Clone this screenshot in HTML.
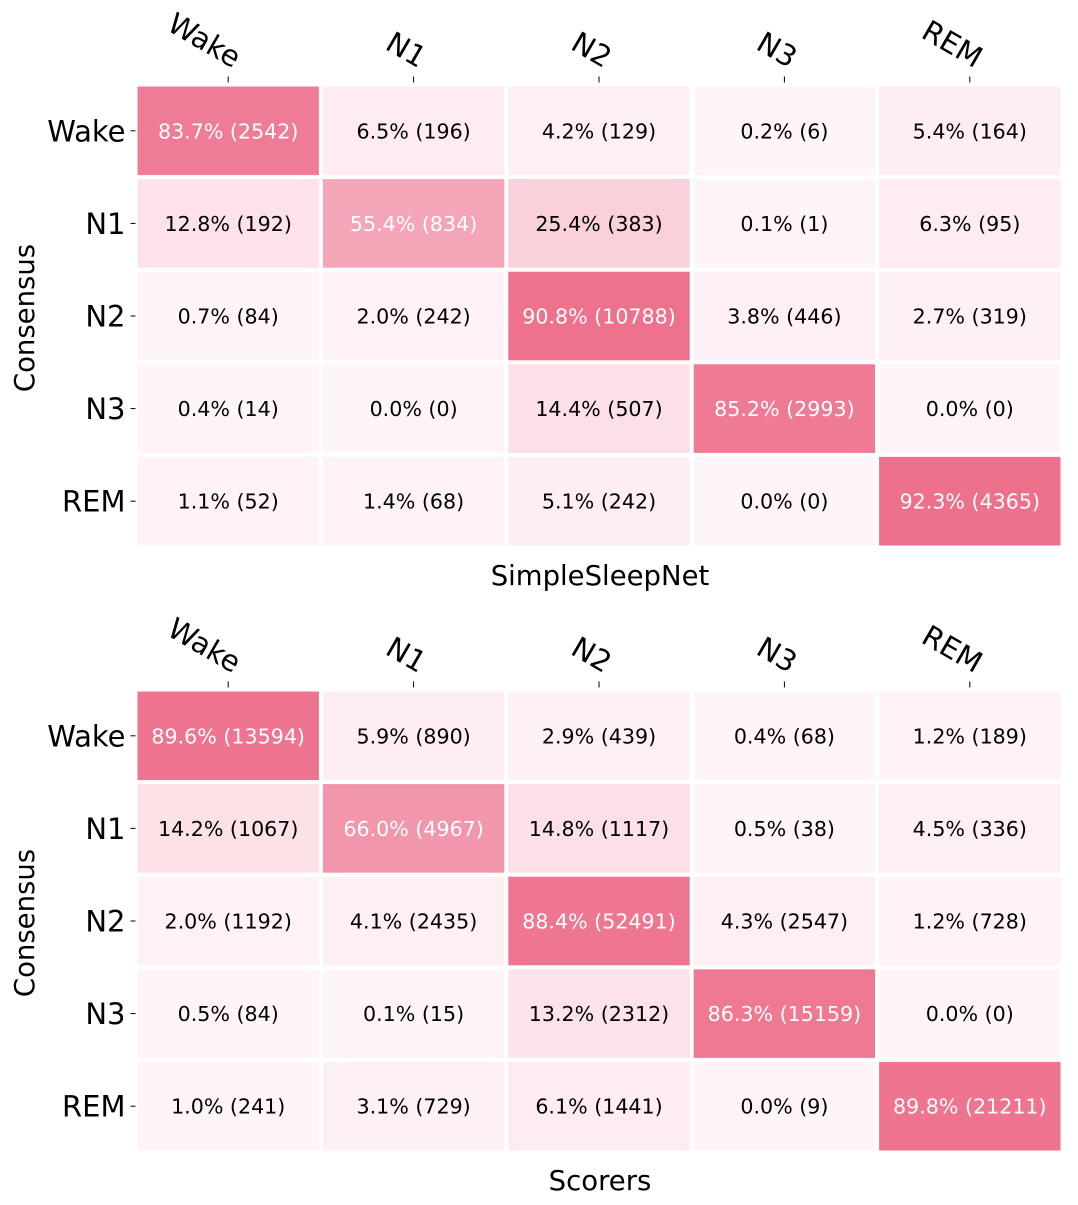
<!DOCTYPE html>
<html><head><meta charset="utf-8"><style>
body{margin:0;background:#fff;}
svg{display:block;font-family:"DejaVu Sans","Liberation Sans",sans-serif;}
</style></head><body>
<svg id="c" width="1078" height="1205" viewBox="0 0 1078 1205"></svg>
<script>
const labels = ["Wake","N1","N2","N3","REM"];
const pctTop = [[83.7,6.5,4.2,0.2,5.4],[12.8,55.4,25.4,0.1,6.3],[0.7,2.0,90.8,3.8,2.7],[0.4,0.0,14.4,85.2,0.0],[1.1,1.4,5.1,0.0,92.3]];
const cntTop = [[2542,196,129,6,164],[192,834,383,1,95],[84,242,10788,446,319],[14,0,507,2993,0],[52,68,242,0,4365]];
const pctBot = [[89.6,5.9,2.9,0.4,1.2],[14.2,66.0,14.8,0.5,4.5],[2.0,4.1,88.4,4.3,1.2],[0.5,0.1,13.2,86.3,0.0],[1.0,3.1,6.1,0.0,89.8]];
const cntBot = [[13594,890,439,68,189],[1067,4967,1117,38,336],[1192,2435,52491,2547,728],[84,15,2312,15159,0],[241,729,1441,9,21211]];
const titles = ["SimpleSleepNet","Scorers"];

const NS="http://www.w3.org/2000/svg";
const svg=document.getElementById('c');
function mk(tag,attrs,parent){const e=document.createElementNS(NS,tag);for(const k in attrs)e.setAttribute(k,attrs[k]);(parent||svg).appendChild(e);return e;}
function color(p){const t=Math.min(p/100,1);const a=[255,245,248],b=[236,101,131];
 return `rgb(${a.map((v,i)=>Math.round(v+(b[i]-v)*t)).join(',')})`;}
function draw(pct,cnt,title,oy,name){
 const g=mk('g',{transform:`translate(0,${oy})`});
 
 
 const x0=135.5,y0=84.5,cw=185.4,ch=92.6;
 const xs=i=>x0+i*cw, ys=j=>y0+j*ch;
 for(let r=0;r<5;r++)for(let c=0;c<5;c++){
  const rect=mk('rect',{x:xs(c)+2,y:ys(r)+2,width:cw-4,height:ch-4,fill:color(pct[r][c])},g);
  
  
  const t=mk('text',{x:xs(c)+cw/2,y:ys(r)+ch/2+7.5,'text-anchor':'middle','font-size':20.6,fill:pct[r][c]>50?'#fff':'#000'},g);
  t.textContent=pct[r][c].toFixed(1)+'% ('+cnt[r][c]+')';
  
  
 }
 for(let i=0;i<5;i++){
  const cx=xs(i)+cw/2;
  mk('line',{x1:cx,y1:y0-8,x2:cx,y2:y0-2,stroke:'#000','stroke-width':1},g);
  const t=mk('text',{x:0,y:0,'text-anchor':'end','font-size':29,transform:`translate(${cx+5},${y0-16}) rotate(30)`},g);
  t.textContent=labels[i];
  
  
  const cy=ys(i)+ch/2;
  mk('line',{x1:x0-5,y1:cy,x2:x0,y2:cy,stroke:'#000','stroke-width':1},g);
  const l=mk('text',{x:x0-10,y:cy+10.5,'text-anchor':'end','font-size':29},g);
  l.textContent=labels[i];
  
  
 }
 const xt=mk('text',{x:600,y:585,'text-anchor':'middle','font-size':27.5},g);
 xt.textContent=title;
 
 
 const yt=mk('text',{x:0,y:0,'text-anchor':'middle','font-size':27.5,transform:'translate(34,318) rotate(-90)'},g);
 yt.textContent='Consensus';
 
 
}
draw(pctTop,cntTop,titles[0],0,'top-heatmap');
draw(pctBot,cntBot,titles[1],605,'bottom-heatmap');
</script>
</body></html>
